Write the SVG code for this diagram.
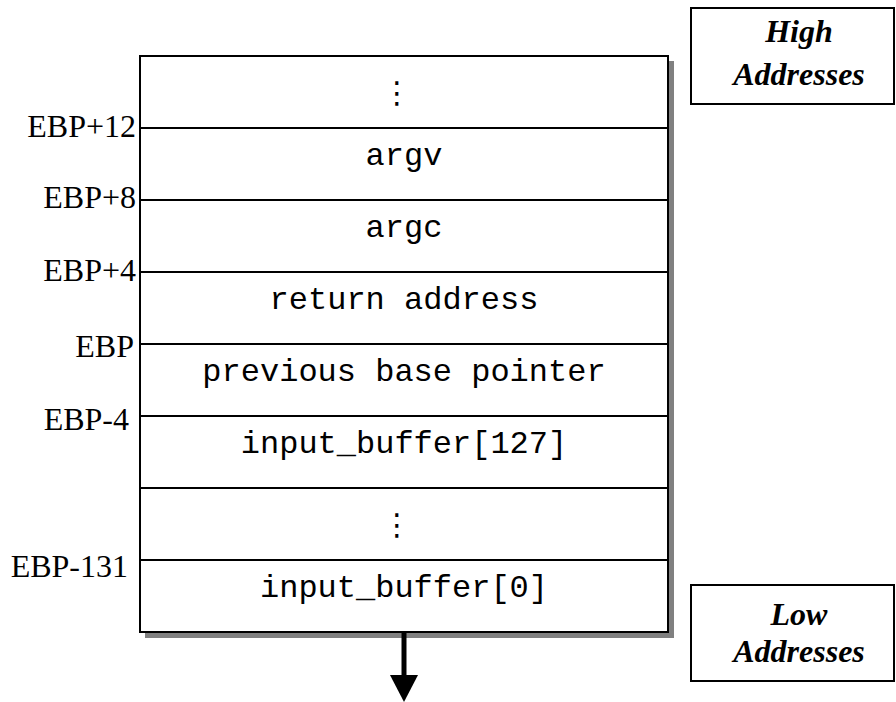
<svg xmlns="http://www.w3.org/2000/svg" width="896" height="702" viewBox="0 0 896 702">
<style>
.box{fill:#fff;stroke:#000;stroke-width:2}
.shadow{fill:#808080}
.div{stroke:#000;stroke-width:2}
.mono{font-family:"Liberation Mono","Courier New",monospace;font-size:32px;text-anchor:middle;fill:#000}
.lbl{font-family:"Liberation Serif","Times New Roman",serif;font-size:32px;text-anchor:end;fill:#000}
.bi{font-family:"Liberation Serif","Times New Roman",serif;font-size:32px;font-weight:bold;font-style:italic;text-anchor:middle;fill:#000}
.dots{font-family:"DejaVu Sans",sans-serif;font-size:30px;text-anchor:middle;fill:#000}
</style>
<rect width="896" height="702" fill="#fff"/>
<g id="stack">
<rect class="shadow" x="145" y="61" width="529" height="577"/>
<rect class="box" x="140" y="56" width="528" height="576"/>
<line class="div" x1="140" y1="128" x2="668" y2="128"/>
<line class="div" x1="140" y1="200" x2="668" y2="200"/>
<line class="div" x1="140" y1="272" x2="668" y2="272"/>
<line class="div" x1="140" y1="344" x2="668" y2="344"/>
<line class="div" x1="140" y1="416" x2="668" y2="416"/>
<line class="div" x1="140" y1="488" x2="668" y2="488"/>
<line class="div" x1="140" y1="560" x2="668" y2="560"/>
</g>
<g id="cell-top"><text class="dots" x="397" y="103">⋮</text></g>
<g id="cell-argv"><text class="mono" x="404" y="165">argv</text></g>
<g id="cell-argc"><text class="mono" x="404" y="237">argc</text></g>
<g id="cell-ret"><text class="mono" x="404" y="309">return address</text></g>
<g id="cell-prev"><text class="mono" x="404" y="381">previous base pointer</text></g>
<g id="cell-buf127"><text class="mono" x="404" y="453">input_buffer[127]</text></g>
<g id="cell-mid"><text class="dots" x="397" y="535">⋮</text></g>
<g id="cell-buf0"><text class="mono" x="404" y="597">input_buffer[0]</text></g>
<g id="labels">
<text class="lbl" x="136" y="137">EBP+12</text>
<text class="lbl" x="136" y="208">EBP+8</text>
<text class="lbl" x="136" y="281">EBP+4</text>
<text class="lbl" x="134" y="357">EBP</text>
<text class="lbl" x="129" y="430">EBP-4</text>
<text class="lbl" x="128" y="577">EBP-131</text>
</g>
<g id="high">
<rect class="box" x="691" y="8" width="203" height="96"/>
<text class="bi" x="799" y="42">High</text>
<text class="bi" x="799" y="85">Addresses</text>
</g>
<g id="low">
<rect class="box" x="691" y="585" width="203" height="96"/>
<text class="bi" x="799" y="625">Low</text>
<text class="bi" x="799" y="662">Addresses</text>
</g>
<g id="connectors">
<line x1="404" y1="633" x2="404" y2="678" stroke="#000" stroke-width="5"/>
<polygon points="390,675 418,675 404,702" fill="#000"/>
</g>
</svg>
